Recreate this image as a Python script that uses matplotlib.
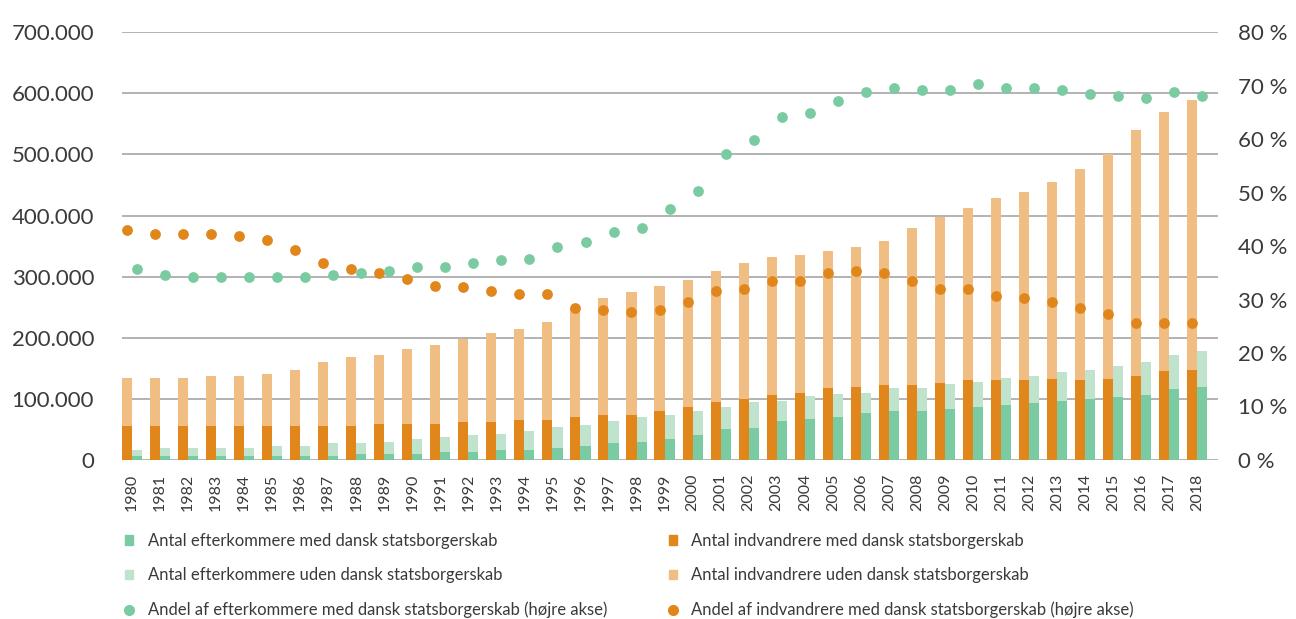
import numpy as np
import matplotlib
matplotlib.use("Agg")
import matplotlib.pyplot as plt
from matplotlib.lines import Line2D
from matplotlib.patches import Patch

plt.rcParams['font.family'] = ['Lato', 'DejaVu Sans']

years = list(range(1980, 2019))

# indvandrere (orange), antal i tusinder
indv_med = [56, 56, 56, 56, 56, 56, 56, 56, 56, 59, 59, 59, 62, 62, 66, 66, 69.5, 73, 73, 80,
            87, 94, 100, 107, 110, 117, 120, 123, 123, 126, 130, 130, 130, 133, 130, 133, 137, 145, 147]
indv_total = [134, 134, 134, 137, 137, 141, 147, 161, 168, 172, 181, 188, 198, 208, 215, 225, 248, 265, 275, 285,
              295, 309, 322, 332, 335, 342, 349, 359, 379, 398, 413, 429, 439, 455, 476, 500, 540, 570, 589]

# efterkommere (green), antal i tusinder
efter_med = [6, 6, 6, 6, 6, 6, 6, 6, 10, 10, 10, 13.5, 13.5, 17, 17, 20, 23, 27, 30, 34,
             40, 50, 53, 64, 67, 70, 77, 80, 80, 83, 86, 90, 93, 97, 100, 103, 107, 116, 120]
efter_total = [17, 20, 20, 20, 20, 23, 23, 27, 27, 30, 34, 37, 40, 43, 47, 54, 57, 64, 71, 74,
               80, 87, 94, 97, 104, 108, 110, 117, 117, 124, 127, 134, 137, 144, 147, 153, 161, 171, 178]

# andel med dansk statsborgerskab, procent (hoejre akse)
andel_indv = [43.0, 42.3, 42.3, 42.3, 41.9, 41.1, 39.2, 36.9, 35.7, 35.0, 33.8, 32.6, 32.3, 31.5, 31.1, 31.1,
              28.4, 28.0, 27.7, 28.0, 29.6, 31.5, 31.9, 33.5, 33.5, 35.0, 35.3, 35.0, 33.5, 31.9, 31.9,
              30.7, 30.3, 29.6, 28.4, 27.3, 25.7, 25.7, 25.7]
andel_efter = [35.7, 34.6, 34.2, 34.2, 34.2, 34.2, 34.2, 34.6, 35.0, 35.3, 36.1, 36.1, 36.9, 37.3, 37.6, 39.9,
               40.7, 42.6, 43.4, 46.9, 50.3, 57.2, 59.9, 64.2, 64.9, 67.2, 68.8, 69.6, 69.2, 69.2, 70.4,
               69.6, 69.6, 69.2, 68.4, 68.0, 67.7, 68.8, 68.0]

c_indv_med = '#E0861A'
c_indv_uden = '#F0BD82'
c_efter_med = '#7BCBA2'
c_efter_uden = '#BFE3CD'
txt = '#3a3a3a'

indv_med = np.array(indv_med) * 1000
indv_uden = np.array(indv_total) * 1000 - indv_med
efter_med = np.array(efter_med) * 1000
efter_uden = np.array(efter_total) * 1000 - efter_med

x = np.arange(len(years))
w = 0.36

fig = plt.figure(figsize=(12.96, 6.19), dpi=100)
ax = fig.add_axes([0.094, 0.257, 0.846, 0.691])
ax2 = ax.twinx()

ax.bar(x - w / 2, indv_med, w, color=c_indv_med, zorder=2)
ax.bar(x - w / 2, indv_uden, w, bottom=indv_med, color=c_indv_uden, zorder=2)
ax.bar(x + w / 2, efter_med, w, color=c_efter_med, zorder=2)
ax.bar(x + w / 2, efter_uden, w, bottom=efter_med, color=c_efter_uden, zorder=2)

ax2.scatter(x - w / 2, andel_indv, s=60, color=c_indv_med, zorder=3, linewidths=0)
ax2.scatter(x + w / 2, andel_efter, s=60, color=c_efter_med, zorder=3, linewidths=0)

ax.set_xlim(-0.36, 38.75)
ax.set_ylim(0, 700000)
ax2.set_ylim(0, 80)
ax.set_yticks(np.arange(0, 700001, 100000))
ax.set_yticklabels([f"{v:,}".replace(",", ".") for v in range(0, 700001, 100000)])
ax2.set_yticks(np.arange(0, 81, 10))
ax2.set_yticklabels([f"{v} %" for v in range(0, 81, 10)])
ax.set_xticks(x)
ax.set_xticklabels([str(y) for y in years], rotation=90)

ax.grid(axis='y', color='#A6A6A6', linewidth=1.2, zorder=0)
ax.set_axisbelow(True)
for a in (ax, ax2):
    for s in a.spines.values():
        s.set_visible(False)
ax.tick_params(axis='y', length=0, pad=20, labelsize=16, labelcolor=txt)
ax2.tick_params(axis='y', length=0, pad=14, labelsize=16, labelcolor=txt)
ax.tick_params(axis='x', length=0, pad=10, labelsize=11.5, labelcolor=txt)

handles = [
    Patch(color=c_efter_med, label='Antal efterkommere med dansk statsborgerskab'),
    Patch(color=c_efter_uden, label='Antal efterkommere uden dansk statsborgerskab'),
    Line2D([], [], marker='o', linestyle='none', color=c_efter_med, markersize=7,
           label='Andel af efterkommere med dansk statsborgerskab (højre akse)'),
    Patch(color=c_indv_med, label='Antal indvandrere med dansk statsborgerskab'),
    Patch(color=c_indv_uden, label='Antal indvandrere uden dansk statsborgerskab'),
    Line2D([], [], marker='o', linestyle='none', color=c_indv_med, markersize=7,
           label='Andel af indvandrere med dansk statsborgerskab (højre akse)'),
]
leg = fig.legend(handles=handles, ncol=2, loc='upper left', bbox_to_anchor=(0.085, 0.163),
                 frameon=False, fontsize=12, handlelength=0.5, handleheight=0.5,
                 handletextpad=0.85, columnspacing=3.7, labelspacing=1.1)
for t in leg.get_texts():
    t.set_color(txt)

fig.savefig('out.png', dpi=100)
